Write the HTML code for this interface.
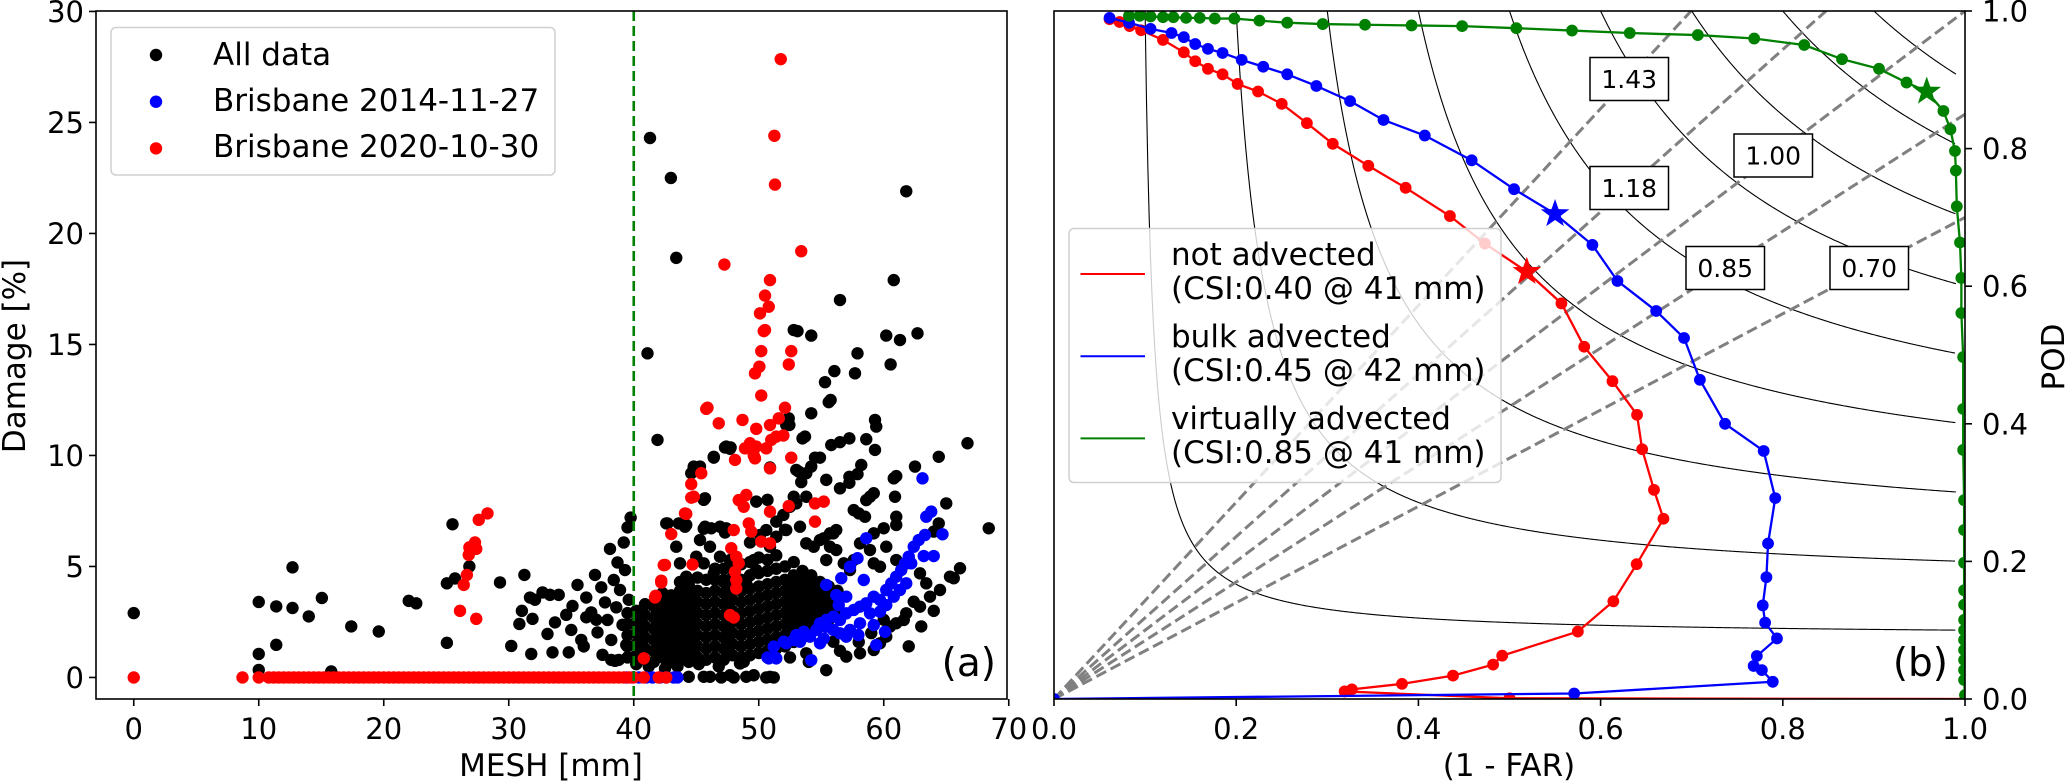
<!DOCTYPE html>
<html><head><meta charset="utf-8">
<style>
html,body{margin:0;padding:0;background:#fff;}
svg{display:block;font-family:"DejaVu Sans","Liberation Sans",sans-serif;}
</style></head>
<body>
<svg id="fig" width="2067" height="783" viewBox="0 0 2067 783" xmlns="http://www.w3.org/2000/svg">
<defs>
<clipPath id="clipA"><rect x="96" y="11" width="911" height="688"/></clipPath>
<clipPath id="clipB"><rect x="1054" y="11" width="911" height="688"/></clipPath>
</defs>
<g id="panelA"></g>
<g id="panelB"></g>
</svg>
<script>
// ---------- Panel (a) data ----------
const blackPts = [
[0,2.9],[10.0,3.4],[10.0,1.06],[10.0,0.34],[11.4,3.2],[11.4,1.47],[12.7,4.96],[12.7,3.13],[14.0,2.75],[15.05,3.58],[15.8,0.27],[17.4,2.3],[19.6,2.07],[22.0,3.45],[22.6,3.34],[25.05,4.24],[25.05,1.56],[25.5,6.9],[25.7,4.46],[26.85,5.0],[29.3,4.28],[30.2,1.42],[30.85,2.41],[31.05,3.0],[31.25,4.62],[31.8,1.06],[31.9,2.64],[31.7,3.6],[32.1,3.5],[32.7,3.83],[33.1,1.96],[33.3,3.72],[33.5,1.13],[33.7,2.48],[34.0,3.72],[34.6,2.82],[34.8,1.13],[35.0,2.14],[35.1,3.22],[35.5,4.17],[35.8,1.69],[36.2,2.71],[36.2,3.6],[36.6,2.93],[36.9,4.62],[37.1,2.03],[37.4,4.06],[37.5,1.02],[37.7,3.38],[37.9,2.59],[38.1,5.79],[38.2,1.69],[38.4,4.39],[38.6,3.16],[38.7,5.18],[38.8,0.79],[38.9,3.94],[39.1,2.37],[39.2,6.08],[39.3,4.84],[39.4,1.47],[39.5,6.76],[39.6,3.5],[39.75,7.2],[39.4,2.37],[38.2,0.79],[38.5,0.75],[37.0,2.6],[36.0,1.4],
[41.3,24.3],[42.97,22.5],[43.4,18.9],[41.1,14.6],[41.9,10.7],[44.8,9.46],[46.4,9.9],[45.6,8.0],[47.3,10.36],[47.75,10.36],[42.7,6.94],[44.2,6.87],[45.6,6.7],[47.3,6.53],[49.3,6.08],[50.7,8.0],[50.9,9.46],[52.2,11.6],[52.8,15.65],[53.0,9.35],[52.1,6.65],
[61.8,21.9],[60.8,17.9],[56.5,17.0],[53.1,15.6],[54.2,15.4],[60.2,15.4],[61.3,15.2],[62.7,15.5],
[57.9,14.6],[56.05,13.8],[57.7,13.7],[60.55,14.1],[55.3,13.3],[55.6,12.4],[55.75,12.5],[54.2,11.9],[59.3,11.6],[59.4,11.3],[52.4,11.67],[52.45,11.37],[53.7,10.85],[53.5,10.77],[55.8,10.47],[56.5,10.6],[57.25,10.77],[58.6,10.73],[59.3,10.25],[66.7,10.55],[64.4,9.94],[62.5,9.5],[61.0,9.07],[60.8,8.97],[58.2,9.57],[57.9,9.16],[57.25,9.04],[54.9,9.9],[54.5,9.9],[54.2,9.5],[53.8,9.2],[53.2,9.27],[53.4,8.8],[55.4,8.9],[56.5,8.52],[57.25,8.77],[59.2,8.3],[58.9,8.14],[58.6,7.99],[60.9,8.14],[65.0,7.84],[57.6,7.54],[58.0,7.39],[58.5,7.24],[61.0,7.24],[61.0,6.87],[64.4,6.94],[64.0,6.57],[68.4,6.72],[60.0,6.72],[59.2,6.49],[56.2,6.64],[55.7,6.49],[55.2,6.27],[53.8,8.14],[53.0,7.84],[52.5,7.69],[51.97,7.32],[51.4,7.02],[50.6,6.64],[50.1,6.42],[45.3,9.5],[44.8,9.5],[44.6,9.2],[46.4,9.94],[47.4,10.4],[47.7,10.3],[52.2,11.37],[52.8,8.14],[49.8,7.92],[45.7,8.07],[42.6,6.94],[43.6,6.94],[44.1,6.79],[45.7,6.79],[46.2,6.72],[46.9,6.79],[47.4,6.72],[45.3,6.19],[46.1,5.89],[46.9,5.44],[47.7,5.29],[43.4,5.89],[43.7,5.14],[44.2,4.54],[45.6,5.14],[45.0,5.44],[46.4,4.69],[47.2,4.39],[49.6,5.29],[49.8,4.84],[49.0,4.24],[50.9,5.89],[51.4,6.34],[52.2,6.64],[53.3,6.79],[53.8,6.04],[54.4,5.89],[54.9,6.19],[55.97,6.49],[55.7,5.89],[55.4,5.29],[56.2,5.74],[56.8,5.14],[57.6,5.29],[58.1,6.04],[57.3,4.84],[58.9,5.74],[59.2,5.14],[59.7,4.99],[60.2,5.89],[61.0,5.29],[61.8,5.14],[62.9,4.69],[63.4,4.24],[64.5,3.94],[65.3,4.54],[66.1,4.92],[65.6,4.47],[62.4,3.41],[61.8,2.89],[63.7,3.64],[62.9,3.19],[61.6,2.59],[61.0,2.44],[60.5,2.29],[60.2,1.84],[59.7,1.54],[59.2,1.24],[58.1,1.09],[57.0,0.94],[55.4,0.33],[50.9,0.03],[49.6,0.1],[49.0,0.03],[47.7,0.1],[46.1,0.03],[45.6,0.03],[44.4,0.03],[48.5,0.63],[48.8,0.71],[55.97,1.61],[53.8,1.09],[50.6,0.0],[51.2,0.0],[48.0,0.0],[47.0,0.0],[42.5,0.4],[43.5,0.5],[45.2,0.6],[46.8,0.5],[41.2,0.5],[52.5,0.9],[54.0,0.7],[56.5,1.2],[58.0,1.6],[59.0,2.0],[60.0,2.6],[63.0,2.3],[64.0,3.0],[62.0,1.4]
];
const blobCols = [39.5,40.2,40.9,41.6,42.3,43.0,43.7,44.4,45.1,45.8,46.5,47.2,47.9,48.6,49.3,50.0,50.7,51.4,52.1,52.8,53.5,54.2,54.9,55.6,56.3];
const blobVals = [
[0.9,1.4,1.9,2.4,2.9],
[0.6,1.0,1.5,2.0,2.5,3.0],
[0.8,1.3,1.8,2.3,2.8,3.3],
[0.7,1.2,1.7,2.2,2.7,3.2],
[0.9,1.4,1.9,2.4,2.9,3.4,3.8],
[0.7,1.2,1.7,2.2,2.7,3.2,3.7],
[0.9,1.4,1.9,2.4,2.9,3.4,3.9,4.3],
[0.7,1.2,1.7,2.2,2.7,3.2,3.7,4.2],
[0.9,1.4,1.9,2.4,2.9,3.4,3.9,4.5],
[0.8,1.3,1.8,2.3,2.8,3.3,3.8,4.4],
[0.9,1.4,1.9,2.4,2.9,3.4,3.9,4.4,4.9],
[0.8,1.3,1.8,2.3,2.8,3.3,3.8,4.3,4.9],
[1.0,1.5,2.0,2.5,3.0,3.5,4.0,4.5,5.0],
[0.9,1.4,1.9,2.4,2.9,3.4,3.9,4.4,5.1],
[1.0,1.5,2.0,2.5,3.0,3.5,4.0,4.6,5.2],
[1.1,1.6,2.1,2.6,3.1,3.6,4.1,4.7,5.4],
[1.2,1.7,2.2,2.7,3.2,3.7,4.2,4.8,5.3],
[1.3,1.8,2.3,2.8,3.3,3.8,4.3,4.9,5.5],
[1.4,1.9,2.4,2.9,3.4,3.9,4.4,5.0],
[1.6,2.1,2.6,3.1,3.6,4.1,4.6,5.2],
[1.8,2.3,2.8,3.3,3.8,4.3,4.8],
[2.1,2.6,3.1,3.6,4.1,4.6],
[2.3,2.8,3.3,3.8,4.3],
[2.6,3.1,3.6,4.1],
[2.9,3.4,3.9]
];
const bluePts = [
[39.4,0],[39.9,0],[40.4,0],[41.0,0],[41.5,0],[42.1,0],[42.6,0],[43.2,0],[43.5,0],[50.7,0.9],[51.3,0.9],
[50.8,0.86],[51.4,0.86],[52.2,1.54],[52.8,1.69],[53.3,1.61],[54.2,0.78],[54.1,1.84],[54.6,2.14],[54.9,2.44],[55.4,2.59],[55.97,2.74],[56.5,2.59],[57.0,2.89],[57.6,3.04],[58.1,3.19],[58.6,3.34],[59.2,3.64],[59.7,3.49],[60.2,3.94],[60.6,4.24],[61.0,4.54],[61.4,4.84],[61.7,5.14],[62.0,5.44],[62.4,5.89],[62.8,6.19],[63.3,6.42],[63.8,7.47],[63.4,7.24],[63.1,8.97],[64.7,6.45],[64.0,5.47],[63.2,5.47],[58.6,6.27],[57.9,5.37],[57.3,4.99],[58.4,4.39],[56.6,4.47],[55.4,4.17],[56.2,3.71],[57.0,3.64],[56.4,3.26],[55.4,2.29],[55.97,2.14],[56.5,1.99],[57.3,2.14],[58.1,2.44],[58.9,2.89],[59.7,2.96],[60.2,3.26],[60.8,3.64],[61.3,3.94],[61.8,4.24],[62.2,5.14],[59.2,2.36],[60.1,2.06],[59.4,1.46],[57.97,1.91],[57.0,1.84],[54.9,1.54],[55.2,1.76],[53.6,2.06],[53.0,1.91],[52.0,1.61],[51.2,1.39]
];
const redPts = [
[0,0],[8.7,0],[10.0,0],[10.8,0],[26.4,4.17],[26.1,3.0],[26.65,4.62],[26.8,5.52],[26.85,5.86],[27.3,6.08],[27.4,5.79],[27.6,7.1],[28.3,7.39],[27.4,2.64],
[51.76,27.85],[51.25,24.4],[51.3,22.2],[53.4,19.2],[47.25,18.6],[50.9,17.9],[50.5,17.2],[50.8,16.7],[50.1,16.4],[50.5,15.65],
[50.4,15.6],[50.2,14.7],[52.6,14.7],[50.05,14.0],[52.4,14.1],[49.7,13.7],[50.2,12.7],[45.9,12.15],[46.8,11.45],[48.7,11.6],[52.1,12.15],[51.6,11.67],[50.9,11.37],[49.8,11.2],[51.97,10.9],[51.4,10.85],[51.0,10.7],[50.6,10.32],[49.3,10.55],[48.9,10.32],[49.8,10.4],[49.6,10.0],[49.7,9.87],[48.1,9.8],[52.6,9.9],[50.9,9.42],[45.4,9.2],[44.6,8.71],[44.8,8.14],[49.0,8.22],[48.4,7.99],[48.8,7.69],[50.9,7.47],[52.4,7.72],[54.5,7.84],[55.2,7.92],[54.5,7.02],[44.1,7.39],[43.0,6.46],[48.0,6.64],[49.2,6.94],[49.4,6.57],[50.2,6.12],[50.9,6.04],[47.8,5.82],[48.2,5.44],[48.4,5.14],[42.4,5.06],[44.7,5.09],[48.1,4.76],[48.2,4.39],[48.2,4.01],[42.2,4.36],[41.75,3.68],[47.7,2.81],[48.0,2.7],[40.8,0.86],[41.7,3.6],[42.2,4.28],[42.5,5.07],[44.2,7.37],[44.6,8.1],[45.8,12.1],
[40.8,0],[42.0,0],[42.6,0]
];
const redZeroMesh = [11.2,11.6,12.0,12.4,12.8,13.2,13.6,14.0,14.4,14.8,15.2,15.6,16.0,16.4,16.8,17.2,17.6,18.0,18.4,18.8,19.2,19.6,20.0,20.4,20.8,21.2,21.6,22.0,22.4,22.8,23.2,23.6,24.0,24.4,24.8,25.2,25.6,26.0,26.4,26.8,27.2,27.6,28.0,28.4,28.8,29.2,29.6,30.0,30.4,30.8,31.2,31.6,32.0,32.4,32.8,33.2,33.6,34.0,34.4,34.8,35.2,35.6,36.0,36.4,36.8,37.2,37.6,38.0,38.4,38.8,39.2,39.6,40.0];
const meshThreshold = 40;
const aXTicks = [0,10,20,30,40,50,60,70];
const aYTicks = [0,5,10,15,20,25,30];
const legendALabels = ["All data","Brisbane 2014-11-27","Brisbane 2020-10-30"];

// ---------- Panel (b) data ----------
const redX = [0.061,0.072,0.083,0.0956,0.1196,0.1425,0.155,0.169,0.185,0.2015,0.224,0.25,0.2776,0.306,0.345,0.386,0.4346,0.473,0.519,0.557,0.582,0.613,0.640,0.6456,0.6586,0.669,0.6396,0.614,0.575,0.492,0.482,0.438,0.382,0.327,0.319,0.5,1.0];
const redY = [0.988,0.984,0.978,0.972,0.958,0.940,0.927,0.916,0.908,0.894,0.883,0.865,0.837,0.807,0.775,0.743,0.702,0.662,0.621,0.575,0.512,0.462,0.413,0.363,0.304,0.262,0.196,0.142,0.098,0.063,0.050,0.034,0.022,0.014,0.011,0.001,0.0];
const blueX = [0.061,0.0823,0.106,0.129,0.1425,0.155,0.169,0.185,0.206,0.2297,0.256,0.288,0.325,0.3617,0.407,0.4585,0.505,0.550,0.591,0.6185,0.661,0.6916,0.709,0.7366,0.779,0.7917,0.7838,0.782,0.778,0.7806,0.7936,0.7715,0.768,0.777,0.789,0.571,0.0];
const blueY = [0.990,0.983,0.974,0.968,0.962,0.952,0.945,0.939,0.929,0.919,0.908,0.891,0.869,0.8416,0.819,0.783,0.741,0.705,0.660,0.6076,0.564,0.5247,0.464,0.400,0.3605,0.292,0.226,0.177,0.136,0.111,0.088,0.0625,0.048,0.042,0.025,0.008,0.0];
const greenX = [0.0823,0.094,0.106,0.1196,0.131,0.145,0.160,0.1765,0.198,0.2255,0.256,0.295,0.3414,0.3925,0.448,0.5075,0.5686,0.632,0.7067,0.7686,0.8235,0.865,0.9056,0.9358,0.958,0.9763,0.984,0.989,0.990,0.991,0.9945,0.996,0.996,0.998,0.998,0.998,0.999,0.999,0.999,0.999,0.999,0.999,0.999,0.999,0.999,0.999,0.999,0.999,1.0];
const greenY = [0.993,0.993,0.992,0.991,0.991,0.990,0.990,0.989,0.989,0.986,0.983,0.981,0.980,0.979,0.978,0.975,0.9716,0.968,0.965,0.960,0.9506,0.930,0.916,0.896,0.883,0.8547,0.828,0.7965,0.768,0.716,0.6635,0.612,0.561,0.497,0.4215,0.362,0.289,0.2456,0.198,0.158,0.137,0.115,0.100,0.0858,0.0712,0.0567,0.042,0.0276,0.0058];
const bestX = [0.519,0.550,0.958];
const bestY = [0.621,0.705,0.883];
const csiLevels = [0.1,0.2,0.3,0.4,0.5,0.6,0.7,0.8,0.9];
const biasLevels = [1.43,1.18,1.00,0.85,0.70];
const biasLabels = ["1.43","1.18","1.00","0.85","0.70"];
const bXTicks = [0,0.2,0.4,0.6,0.8,1.0];
const bYTicks = [0,0.2,0.4,0.6,0.8,1.0];
const legendBName = ["not advected","bulk advected","virtually advected"];
const legendBCsi = ["(CSI:0.40 @ 41 mm)","(CSI:0.45 @ 42 mm)","(CSI:0.85 @ 41 mm)"];

// ---------- helpers ----------
const NS = "http://www.w3.org/2000/svg";
const RS = 6.2, RM = 5.9;
function mk(tag, attrs, parent){ const e=document.createElementNS(NS,tag); for(const k in attrs) e.setAttribute(k,attrs[k]); parent.appendChild(e); return e; }
function txt(parent, s, attrs){ const t=mk('text',attrs,parent); t.textContent=s; return t; }
function starPath(cx,cy,R){ const r=R*0.4; let d=''; for(let i=0;i<10;i++){ const a=-Math.PI/2+i*Math.PI/5; const rr=i%2?r:R; d+=(i?'L':'M')+(cx+rr*Math.cos(a)).toFixed(2)+' '+(cy+rr*Math.sin(a)).toFixed(2);} return d+'Z'; }

// ---------- Panel (a) ----------
const A = document.getElementById('panelA');
const aL=96,aR=1007,aT=11,aB=699;
const axMin=-3.02, axMax=69.86, ayMin=-0.97, ayMax=30.02;
const ax = v => aL + (v-axMin)/(axMax-axMin)*(aR-aL);
const ay = v => aB - (v-ayMin)/(ayMax-ayMin)*(aB-aT);

const aPlot = mk('g',{'clip-path':'url(#clipA)'},A);


const gBlack = mk('g',{fill:'#000'},aPlot);


blackPts.forEach(p=>{ const c=mk('circle',{cx:ax(p[0]),cy:ay(p[1]),r:RS},gBlack);

 });
blobCols.forEach((m,i)=>{ blobVals[i].forEach(d=>{ const c=mk('circle',{cx:ax(m),cy:ay(d),r:RS},gBlack);

 }); });
const gBlue = mk('g',{fill:'#0000ff'},aPlot);


bluePts.forEach(p=>{ const c=mk('circle',{cx:ax(p[0]),cy:ay(p[1]),r:RS},gBlue);

 });
const gRed = mk('g',{fill:'#ff0000'},aPlot);


redZeroMesh.forEach(m=>{ const c=mk('circle',{cx:ax(m),cy:ay(0),r:RS},gRed);

 });
redPts.forEach(p=>{ const c=mk('circle',{cx:ax(p[0]),cy:ay(p[1]),r:RS},gRed);

 });
const thr = mk('line',{x1:ax(meshThreshold),x2:ax(meshThreshold),y1:aT,y2:aB,stroke:'#008000','stroke-width':2.6,'stroke-dasharray':'10,5'},A);


const frA = mk('rect',{x:aL,y:aT,width:aR-aL,height:aB-aT,fill:'none',stroke:'#000','stroke-width':1.6},A);


aXTicks.forEach(v=>{ const x=ax(v); mk('line',{x1:x,x2:x,y1:aB,y2:aB+7,stroke:'#000','stroke-width':1.6},A);
const t=txt(A,String(v),{x:x,y:739,'font-size':29,'text-anchor':'middle'});

 });
aYTicks.forEach(v=>{ const y=ay(v); mk('line',{x1:aL-7,x2:aL,y1:y,y2:y,stroke:'#000','stroke-width':1.6},A);
const t=txt(A,String(v),{x:84,y:y+10.5,'font-size':29,'text-anchor':'end'});

 });
const xtA = txt(A,'MESH [mm]',{x:551,y:776,'font-size':31,'text-anchor':'middle'});


const ytA = txt(A,'Damage [%]',{x:0,y:0,'font-size':31,'text-anchor':'middle','dominant-baseline':'central',transform:'translate(15,356) rotate(-90)'});


const pa = txt(A,'(a)',{x:996,y:676,'font-size':39,'text-anchor':'end'});


// legend a
const legA = mk('g',{},A);


mk('rect',{x:111,y:27.5,width:444,height:147.5,rx:5,fill:'rgba(255,255,255,0.8)',stroke:'#d0d0d0','stroke-width':1.5},legA);
const legAColors=['#000','#0000ff','#ff0000'];
legendALabels.forEach((s,i)=>{ const g=mk('g',{},legA);


mk('circle',{cx:156,cy:55+i*46.7,r:RS,fill:legAColors[i]},g);
txt(g,s,{x:213,y:65+i*46,'font-size':31}); });

// ---------- Panel (b) ----------
const B = document.getElementById('panelB');
const bL=1054,bR=1965,bT=11,bB=699;
const bx = v => bL + v*(bR-bL);
const by = v => bB - v*(bB-bT);
const bPlot = mk('g',{'clip-path':'url(#clipB)'},B);
// CSI contours
const gCsi = mk('g',{fill:'none',stroke:'#000','stroke-width':1.1},bPlot);


csiLevels.forEach(c=>{ let d=''; let first=true;
  for(let sr=c; sr<=0.99; sr+=0.0015){ const den=1/c+1-1/sr; if(den<=0) continue; const pod=1/den; if(pod>1.0001) continue;
    d+=(first?'M':'L')+bx(sr).toFixed(2)+' '+by(pod).toFixed(2); first=false; }
  const p=mk('path',{d:d},gCsi);
  
   });
// bias lines
const gBias = mk('g',{stroke:'#808080','stroke-width':3,'stroke-dasharray':'11,5',fill:'none'},bPlot);


biasLevels.forEach(b=>{ const xe=Math.min(1,1/b); const l=mk('line',{x1:bx(0),y1:by(0),x2:bx(xe),y2:by(b*xe)},gBias);

 });
// series
function series(xs,ys,color,name){ const g=mk('g',{},bPlot);
  
  
  const n=Math.min(xs.length,ys.length); let d='';
  for(let i=0;i<n;i++) d+=(i?'L':'M')+bx(xs[i]).toFixed(2)+' '+by(ys[i]).toFixed(2);
  mk('path',{d:d,fill:'none',stroke:color,'stroke-width':2.3},g);
  for(let i=0;i<n;i++){ const c=mk('circle',{cx:bx(xs[i]),cy:by(ys[i]),r:RM,fill:color},g);
    
     } }
series(redX,redY,'#ff0000','not-advected-series');
series(blueX,blueY,'#0000ff','bulk-advected-series');
series(greenX,greenY,'#008000','virtually-advected-series');
const starColors=['#ff0000','#0000ff','#008000'];
bestX.forEach((v,i)=>{ const s=mk('path',{d:starPath(bx(v),by(bestY[i]),15),fill:starColors[i]},bPlot);

 });
// bias labels (boxes)
const biasBoxX=[1590,1590,1734,1686,1830], biasBoxY=[57.5,166.5,134,246.5,246.5];
biasLabels.forEach((s,i)=>{ const g=mk('g',{},B);


mk('rect',{x:biasBoxX[i],y:biasBoxY[i],width:78.5,height:43,fill:'#fff',stroke:'#000','stroke-width':1.5},g);
txt(g,s,{x:biasBoxX[i]+39.25,y:biasBoxY[i]+30.5,'font-size':25,'text-anchor':'middle'}); });
const frB = mk('rect',{x:bL,y:bT,width:bR-bL,height:bB-bT,fill:'none',stroke:'#000','stroke-width':1.6},B);


bXTicks.forEach(v=>{ const x=bx(v); mk('line',{x1:x,x2:x,y1:bB,y2:bB+7,stroke:'#000','stroke-width':1.6},B);
const t=txt(B,v.toFixed(1),{x:x,y:739,'font-size':29,'text-anchor':'middle'});

 });
bYTicks.forEach(v=>{ const y=by(v); mk('line',{x1:bR,x2:bR+7,y1:y,y2:y,stroke:'#000','stroke-width':1.6},B);
const t=txt(B,v.toFixed(1),{x:1982,y:y+10.5,'font-size':29});

 });
const xtB = txt(B,'(1 - FAR)',{x:1509,y:776,'font-size':31,'text-anchor':'middle'});


const ytB = txt(B,'POD',{x:0,y:0,'font-size':31,'text-anchor':'middle','dominant-baseline':'central',transform:'translate(2054,357) rotate(-90)'});


const pb = txt(B,'(b)',{x:1948,y:676,'font-size':39,'text-anchor':'end'});


// legend b
const legB = mk('g',{},B);


mk('rect',{x:1069,y:228.5,width:432,height:254,rx:5,fill:'rgba(255,255,255,0.8)',stroke:'#d0d0d0','stroke-width':1.5},legB);
legendBName.forEach((s,i)=>{ const g=mk('g',{},legB);


const ly=274+i*82.2;
mk('line',{x1:1080.5,x2:1145,y1:ly,y2:ly,stroke:starColors[i],'stroke-width':2},g);
txt(g,s,{x:1171,y:265+i*82,'font-size':31});
txt(g,legendBCsi[i],{x:1171,y:299+i*82,'font-size':31}); });
</script>
</body></html>
